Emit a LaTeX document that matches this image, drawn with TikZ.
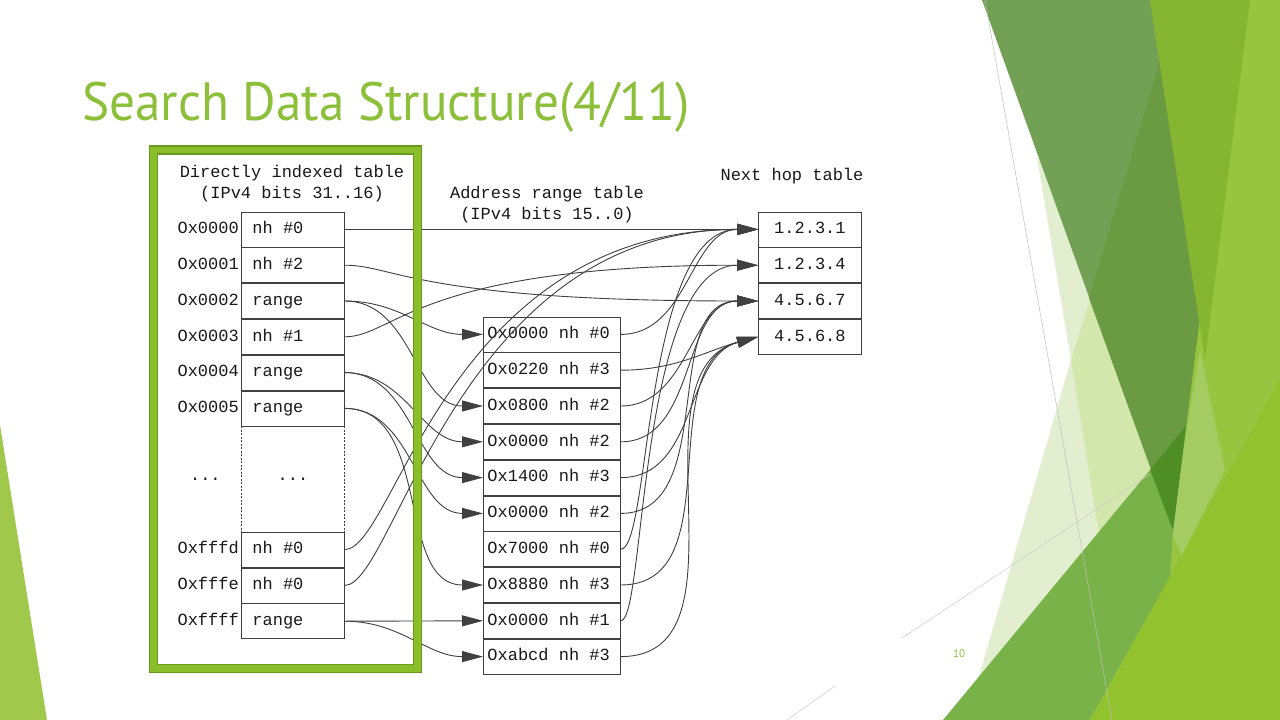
\documentclass[tikz,border=0pt]{standalone}
\usepackage{fontspec}
\newfontfamily\tabfont{Liberation Mono}
\newfontfamily\titlefont{PT Sans}
\usetikzlibrary{arrows.meta,positioning}

\definecolor{titlegreen}{HTML}{8DC03A}
\definecolor{framegreen}{HTML}{8BBE2B}
\definecolor{frameedge}{HTML}{6A9A1C}
\definecolor{linegray}{HTML}{404040}
\definecolor{leftgreen}{HTML}{A0C94C}
\definecolor{palegreen}{HTML}{E2EECF}
\definecolor{palegreentwo}{HTML}{D3E7AD}
\definecolor{lightgreen}{HTML}{98C53F}
\definecolor{patchgreen}{HTML}{A4CC63}
\definecolor{bandgreen}{HTML}{72A055}
\definecolor{banddark}{HTML}{6A9A42}
\definecolor{yellowgreen}{HTML}{86B532}
\definecolor{midgreen}{HTML}{7AB24A}
\definecolor{deepgreen}{HTML}{4F8D25}
\definecolor{brightgreen}{HTML}{92C22E}

\tikzset{
  tab/.style={font=\tabfont\fontsize{17}{21}\selectfont, text=black!90,
              execute at begin node={\spaceskip=0.6em\relax}},
  cell/.style={tab, draw=linegray, line width=0.8pt, minimum height=35pt, anchor=north west,
               text height=12pt, text depth=3.5pt},
  dicell/.style={cell, text width=81pt, inner xsep=11pt},
  arcell/.style={cell, text width=129pt, inner xsep=4pt},
  nhcell/.style={cell, text width=103pt, inner xsep=0pt, align=center},
  rowlabel/.style={tab, inner xsep=1pt, text height=12pt, text depth=3.5pt},
  link/.style={linegray, line width=0.9pt, -{Triangle[length=21pt,width=11pt]}},
}

\begin{document}
\begin{tikzpicture}[x=1pt,y=-1pt]
  \useasboundingbox (0,0) rectangle (1280,720);
  \fill[white] (0,0) rectangle (1280,720);

  % slide background shapes
  \fill[leftgreen] (0,425) -- (47,720) -- (0,720) -- cycle;
  \fill[palegreen] (1037,157) -- (1071,360) -- (975,690) -- (1160,470) -- (1120,250) -- cycle;
  \fill[palegreentwo] (1071,360) -- (1129,720) -- (1170,720) -- (1160,470) -- (1090,300) -- cycle;
  \fill[lightgreen] (1200,0) -- (1280,0) -- (1280,720) -- (1150,620) -- cycle;
  \fill[patchgreen] (1200,350) -- (1225,470) -- (1182,555) -- (1170,530) -- cycle;
  \fill[bandgreen] (982,0) -- (1240,0) -- (1173,530) -- cycle;
  \fill[banddark] (1178,0) -- (1240,0) -- (1173,530) -- (1089,298) -- cycle;
  \fill[yellowgreen] (1150,0) -- (1250,0) -- (1205,360) -- cycle;
  \fill[midgreen] (943,720) -- (1150,470) -- (1173,530) -- (1170,577) -- (1090,720) -- cycle;
  \fill[deepgreen] (1150,470) -- (1186,426) -- (1173,530) -- cycle;
  \fill[brightgreen] (1280,380) -- (1280,720) -- (1090,720) -- cycle;
  \draw[gray!50, line width=0.5pt] (985,0) -- (1112,720);
  \draw[gray!40, line width=0.5pt] (902,638) -- (1150,474);
  \draw[gray!40, line width=0.5pt] (787,720) -- (835,686);

  \node[anchor=base west, inner sep=0pt, text=titlegreen,
        font=\titlefont\fontsize{54}{60}\selectfont] (title) at (82,120)
        {\scalebox{0.948}[1]{Search Data Structure(4/11)}};
  \node[text=titlegreen, font=\titlefont\fontsize{11}{12}\selectfont] (pagenum) at (959,654) {10};

  % headings
  \node[tab, align=center] (dihead) at (292,183.5) {Directly indexed table\\(IPv4 bits 31..16)};
  \node[tab, align=center] (arhead) at (547,205) {Address range table\\(IPv4 bits 15..0)};
  \node[tab] (nhhead) at (792,176) {Next hop table};

  % directly indexed table
  \node[dicell] (d0) at (241,211.5) {nh \#0};
  \node[dicell, below=0pt of d0] (d1) {nh \#2};
  \node[dicell, below=0pt of d1] (d2) {range};
  \node[dicell, below=0pt of d2] (d3) {nh \#1};
  \node[dicell, below=0pt of d3] (d4) {range};
  \node[dicell, below=0pt of d4] (d5) {range};
  \node[tab, minimum width=103pt, minimum height=105pt, inner sep=0pt, below=0pt of d5] (ddots) {...};
  \node[dicell, below=0pt of ddots] (dfd) {nh \#0};
  \node[dicell, below=0pt of dfd] (dfe) {nh \#0};
  \node[dicell, below=0pt of dfe] (dff) {range};
  \draw[linegray, line width=0.7pt, dash pattern=on 2pt off 1.5pt] (ddots.north west) -- (ddots.south west);
  \draw[linegray, line width=0.7pt, dash pattern=on 2pt off 1.5pt] (ddots.north east) -- (ddots.south east);

  \foreach \c/\t in {d0/Ox0000, d1/Ox0001, d2/Ox0002, d3/Ox0003, d4/Ox0004,
                     d5/Ox0005, dfd/Oxfffd, dfe/Oxfffe, dff/Oxffff}
    \node[rowlabel, left=1pt of \c] (\c-lab) {\t};
  \node[tab, left=17pt of ddots] (ddots-lab) {...};

  % address range table
  \node[arcell] (a0) at (483,316.5) {Ox0000 nh \#0};
  \node[arcell, below=0pt of a0] (a1) {Ox0220 nh \#3};
  \node[arcell, below=0pt of a1] (a2) {Ox0800 nh \#2};
  \node[arcell, below=0pt of a2] (a3) {Ox0000 nh \#2};
  \node[arcell, below=0pt of a3] (a4) {Ox1400 nh \#3};
  \node[arcell, below=0pt of a4] (a5) {Ox0000 nh \#2};
  \node[arcell, below=0pt of a5] (a6) {Ox7000 nh \#0};
  \node[arcell, below=0pt of a6] (a7) {Ox8880 nh \#3};
  \node[arcell, below=0pt of a7] (a8) {Ox0000 nh \#1};
  \node[arcell, below=0pt of a8] (a9) {Oxabcd nh \#3};

  % next hop table
  \node[nhcell] (n0) at (758,211.5) {1.2.3.1};
  \node[nhcell, below=0pt of n0] (n1) {1.2.3.4};
  \node[nhcell, below=0pt of n1] (n2) {4.5.6.7};
  \node[nhcell, below=0pt of n2] (n3) {4.5.6.8};

  % connectors
  \draw[link] (d0.east) -- (n0.west);
  \draw[link] (d1.east) .. controls +(50,0) and +(-340,0) .. (n2.west);
  \draw[link] (d3.east) .. controls +(50,0) and +(-340,0) .. (n1.west);
  \draw[link] (dfd.east) .. controls +(50,0) and +(-310,0) .. (n0.west);
  \draw[link] (dfe.east) .. controls +(50,0) and +(-300,0) .. (n0.west);
  \foreach \s/\e in {d2/a0, d2/a2, d4/a3, d4/a4, d5/a5, d5/a7, dff/a9}
    \draw[link] (\s.east) to[out=0,in=180] (\e.west);
  \draw[link] (dff.east) -- (a8.west);
  \foreach \s/\e in {a0/n0, a2/n2, a3/n2, a5/n2}
    \draw[link] (\s.east) to[out=0,in=180] (\e.west);
  \foreach \s/\e in {a1/n3, a4/n3, a7/n3, a9/n3}
    \draw[link] (\s.east) to[out=0,in=195] (\e.west);
  \draw[link] (a6.east) .. controls +(30,0) and +(-115,0) .. (n0.west);
  \draw[link] (a8.east) .. controls +(25,0) and +(-120,0) .. (n1.west);

  % green frame round the first table
  \draw[framegreen, line width=8pt] (153.4,150) rectangle (417.5,668.3);
  \draw[frameedge, line width=1.2pt] (149.4,146) rectangle (421.5,672.3);
  \draw[frameedge, line width=1.2pt] (157.4,154) rectangle (413.5,664.3);
\end{tikzpicture}
\end{document}
